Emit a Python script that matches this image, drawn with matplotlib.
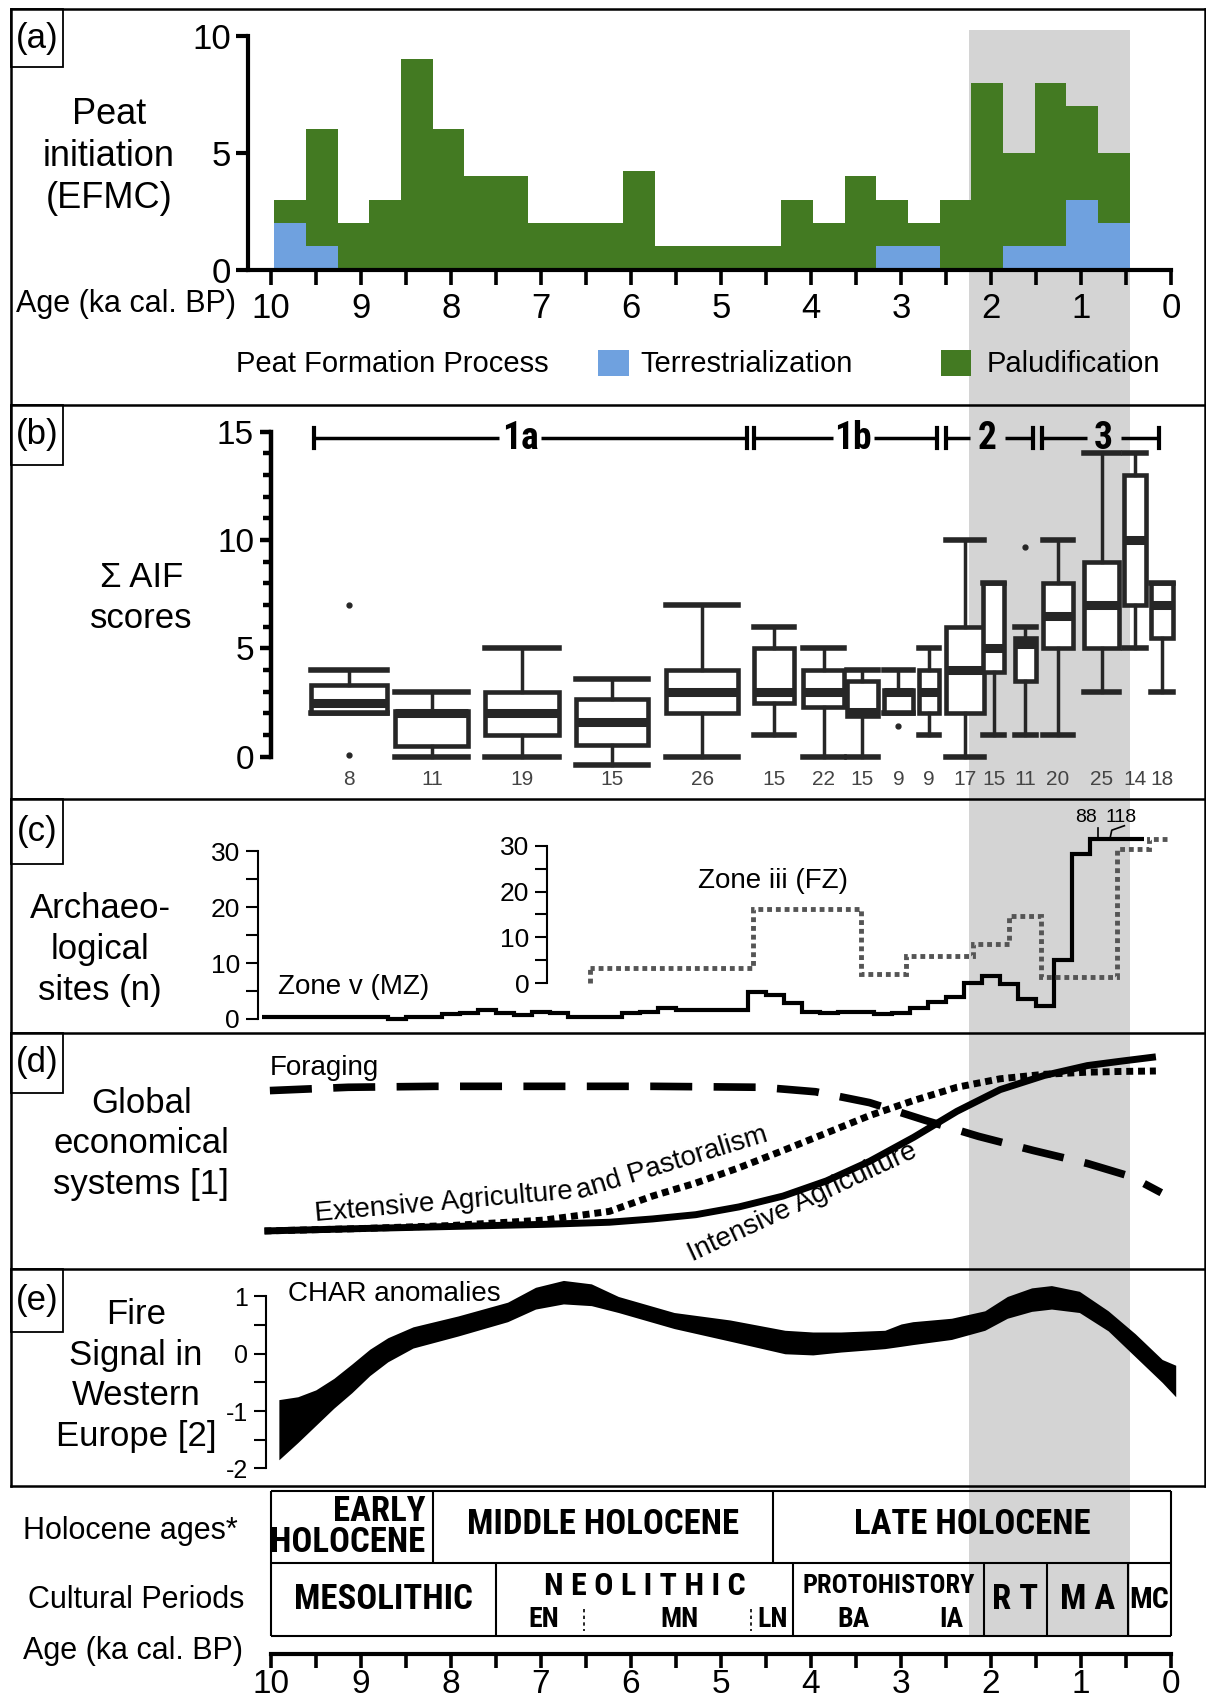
import numpy as np
import matplotlib
matplotlib.use('Agg')
import matplotlib.pyplot as plt
from matplotlib.patches import Rectangle
from matplotlib.lines import Line2D
from matplotlib import font_manager

# reference layout measured on a 1109 x 1568 grid, saved at 1206 x 1705
W, H = 1109.0, 1568.0


def fx(x):
    return x / W


def fy(y):
    return 1 - y / H


SANS = ['Liberation Sans', 'DejaVu Sans']
plt.rcParams['font.family'] = SANS

# a condensed face for the bold chronology labels, else plain sans
fonts = font_manager.fontManager.ttflist
installed = {f.name for f in fonts}
NARROW = dict(family=SANS)
for name in ['Liberation Sans Narrow', 'Roboto Condensed', 'Open Sans Condensed']:
    if name in installed:
        NARROW = dict(family=[name] + SANS)
        break
else:
    if any(f.name == 'DejaVu Sans' and f.stretch == 'condensed' for f in fonts):
        NARROW = dict(family=['DejaVu Sans'], stretch='condensed')

BLUE = '#6fa1df'
GREEN = '#437a22'
GRAY = '#d4d4d4'
DARK = '#262626'

# shaded period (ka cal. BP)
band = (2.25, 0.46)

# (a) peat initiation per bin
peat_edges = np.linspace(9.96, 0.46, 28)
terrestrialization = [2, 1, 0, 0, 0, 0, 0, 0, 0, 0, 0, 0, 0, 0, 0, 0, 0, 0, 0, 1, 1, 0, 0, 1, 1, 3, 2]
paludification = [1, 5, 2, 3, 9, 6, 4, 4, 2, 2, 2, 4.2, 1, 1, 1, 1, 3, 2, 4, 2, 1, 3, 8, 4, 7, 4, 3]

# (b) sum of AIF scores, box statistics
aif_age = [9.13, 8.21, 7.21, 6.21, 5.21, 4.41, 3.86, 3.43, 3.03, 2.69, 2.29, 1.97, 1.62, 1.26, 0.77, 0.40, 0.10]
aif_width = [0.84, 0.81, 0.82, 0.80, 0.80, 0.45, 0.45, 0.34, 0.33, 0.23, 0.42, 0.23, 0.23, 0.33, 0.39, 0.25, 0.24]
aif_whislo = [2, 0, 0, -0.4, 0, 1, 0, 0, 2, 1, 0, 1, 1, 1, 3, 5, 3]
aif_q1 = [2, 0.5, 1, 0.55, 2, 2.5, 2.3, 1.9, 2, 2, 2, 3.9, 3.5, 5, 5, 7, 5.5]
aif_med = [2.5, 2, 2, 1.6, 3, 3, 3, 2.05, 3, 3, 4, 5, 5.2, 6.5, 7, 10, 7]
aif_q3 = [3.3, 2.1, 3, 2.65, 4, 5, 4, 3.5, 3.1, 4, 6, 8, 5.5, 8, 9, 13, 8]
aif_whishi = [4, 3, 5, 3.6, 7, 6, 5, 4, 4, 5, 10, 8, 6, 10, 14, 14, 8]
aif_fliers = [[7, 0.1], [], [], [], [], [], [], [], [1.4], [], [], [], [9.7], [], [], [], []]
aif_n = [8, 11, 19, 15, 26, 15, 22, 15, 9, 9, 17, 15, 11, 20, 25, 14, 18]

zone_names = ['1a', '1b', '2', '3']
zone_start = [9.52, 4.63, 2.50, 1.44]
zone_end = [4.71, 2.60, 1.54, 0.13]
zone_label_age = [7.23, 3.53, 2.04, 0.75]

# (c) archaeological sites, Zone v (MZ), 0.2 ka bins from 10.1 to 0.3 ka
mz_edges = np.round(np.arange(10.1, 0.29, -0.2), 1)
mz_sites = [0.3, 0.3, 0.3, 0.3, 0.4, 0.4, 0.3, 0.0, 0.3, 0.3,
            0.8, 1.0, 1.5, 1.1, 0.7, 1.2, 1.1, 0.4, 0.4, 0.3,
            1.0, 1.3, 2.0, 1.6, 1.6, 1.5, 1.5, 4.8, 4.2, 2.8,
            1.2, 1.0, 1.3, 1.3, 0.9, 1.1, 1.9, 3.0, 3.9, 6.5,
            7.7, 6.3, 3.6, 2.3, 10.6, 29.5, 32.3, 32.3, 32.3]
# Zone iii (FZ)
fz_edges = [6.45, 4.65, 3.45, 2.95, 2.20, 1.80, 1.45, 0.60, 0.25, 0.05]
fz_sites = [3.4, 16.2, 2.1, 5.9, 8.6, 14.6, 1.4, 29.4, 31.6]

# (d) global economical systems (schematic, 0-100)
econ_age = [10.07, 9.02, 8.0, 6.97, 6.24, 5.76, 5.28, 4.80, 4.31, 3.83, 3.35, 2.86, 2.38, 1.90, 1.41, 0.93, 0.57, 0.17]
intensive = [16.1, 17.1, 18.0, 18.9, 19.8, 21.2, 23.0, 26.3, 30.9, 37.3, 45.6, 55.8, 66.8, 76.0, 82.0, 86.2, 88.0, 89.9]
extensive = [16.1, 17.1, 18.4, 20.7, 24.4, 30.9, 36.4, 42.9, 50.2, 57.6, 65.0, 71.4, 77.0, 80.6, 82.5, 83.4, 83.7, 83.9]
forage_age = [10.01, 9.14, 8.18, 6.97, 5.76, 4.55, 3.95, 3.35, 2.74, 2.14, 1.53, 0.93, 0.45, 0.11]
foraging = [75.6, 77.0, 77.4, 77.4, 77.4, 77.0, 75.1, 70.5, 63.1, 56.2, 50.2, 44.7, 39.2, 32.3]

# (e) CHAR anomalies envelope
char_age = [9.91, 9.7, 9.5, 9.3, 9.1, 8.9, 8.7, 8.42, 7.92, 7.37, 7.06, 6.75, 6.44, 6.14, 5.52, 4.9,
            4.29, 3.98, 3.67, 3.18, 3.0, 2.87, 2.44, 2.07, 1.82, 1.55, 1.33, 1.02, 0.7, 0.4, 0.1, -0.05]
char_upper = [-0.8, -0.75, -0.63, -0.43, -0.18, 0.08, 0.28, 0.47, 0.66, 0.9, 1.16, 1.28, 1.22, 1.0, 0.72, 0.59,
              0.41, 0.38, 0.38, 0.41, 0.52, 0.56, 0.62, 0.75, 1.0, 1.15, 1.19, 1.09, 0.75, 0.35, -0.1, -0.2]
char_lower = [-1.85, -1.55, -1.25, -0.95, -0.68, -0.38, -0.14, 0.1, 0.31, 0.56, 0.78, 0.87, 0.84, 0.72, 0.44, 0.22,
              0.0, -0.02, 0.03, 0.09, 0.13, 0.16, 0.25, 0.41, 0.62, 0.74, 0.78, 0.72, 0.4, -0.05, -0.5, -0.75]

# chronology table
holocene_names = ['EARLY\nHOLOCENE', 'MIDDLE HOLOCENE', 'LATE HOLOCENE']
holocene_bounds = [10, 8.2, 4.42, 0]
culture_names = ['MESOLITHIC', 'N E O L I T H I C', 'PROTOHISTORY', 'R T', 'M A', 'MC']
culture_bounds = [10, 7.5, 4.2, 2.08, 1.38, 0.48, 0]
sub_names = ['EN', 'MN', 'LN', 'BA', 'IA']
sub_age = [6.97, 5.46, 4.43, 3.53, 2.44]
neolithic_splits = [6.52, 4.67]


fig = plt.figure(figsize=(12.06, 17.05), dpi=100)
renderer = fig.canvas.get_renderer()

# age 10 sits at x=249, age 0 at x=1077
XL = ((1077 - 10) / 82.8, (1077 - 1108) / 82.8)


def panel(y0, y1, ylim):
    ax = fig.add_axes([fx(10), fy(y1), fx(1108) - fx(10), (y1 - y0) / H])
    ax.set_xlim(*XL)
    ax.set_ylim(*ylim)
    for s in ax.spines.values():
        s.set_visible(False)
    ax.set_xticks([])
    ax.set_yticks([])
    ax.patch.set_alpha(0)
    return ax


def y_axis(ax, at, lo, hi, major, minor, labels, size, lw, length):
    sp = ax.spines['left']
    sp.set_visible(True)
    sp.set_position(('data', at))
    sp.set_bounds(lo, hi)
    sp.set_linewidth(lw)
    ax.set_yticks(major)
    ax.set_yticklabels(labels, fontsize=size)
    ax.set_yticks(minor, minor=True)
    ax.tick_params(axis='y', which='major', direction='out', length=length, width=lw, pad=4)
    ax.tick_params(axis='y', which='minor', direction='out', length=length * 0.7, width=lw)


def fit_text(ax, t, a0, a1, frac=0.93):
    # shrink a cell label until it fits between ages a0 and a1
    span = abs(ax.transData.transform((a0, 0))[0] - ax.transData.transform((a1, 0))[0])
    while t.get_window_extent(renderer).width > frac * span and t.get_fontsize() > 8:
        t.set_fontsize(t.get_fontsize() - 0.5)


# ---------- (a) ----------
ax = panel(8, 372, (-5.767, 11.163))
ax.axvspan(*band, ymin=0, ymax=(372 - 28) / 364.0, color=GRAY, lw=0, zorder=0)
centers = (peat_edges[:-1] + peat_edges[1:]) / 2
widths = np.abs(np.diff(peat_edges))
ax.bar(centers, terrestrialization, width=widths, color=BLUE, lw=0, zorder=2)
ax.bar(centers, paludification, width=widths, bottom=terrestrialization, color=GREEN, lw=0, zorder=2)
y_axis(ax, 10.25, 0, 10, [0, 5, 10], [], ['0', '5', '10'], 25, 3, 8.5)
sp = ax.spines['bottom']
sp.set_visible(True)
sp.set_position(('data', 0))
sp.set_bounds(10.25, 0)
sp.set_linewidth(3)
ax.set_xticks(range(11))
ax.set_xticklabels([str(i) for i in range(11)], fontsize=25)
ax.set_xticks(np.arange(0.5, 10, 1), minor=True)
ax.tick_params(axis='x', which='both', direction='out', length=11, width=2.6, pad=5)

fig.text(fx(100), fy(144), 'Peat\ninitiation\n(EFMC)', ha='center', va='center', fontsize=26, linespacing=1.25)
fig.text(fx(217), fy(280), 'Age (ka cal. BP)', ha='right', va='center', fontsize=22)
fig.text(fx(217), fy(335), 'Peat Formation Process', ha='left', va='center', fontsize=21)
fig.add_artist(Rectangle((fx(550), fy(346)), fx(578) - fx(550), (346 - 322) / H,
                         transform=fig.transFigure, color=BLUE, lw=0))
fig.text(fx(589), fy(335), 'Terrestrialization', ha='left', va='center', fontsize=21)
fig.add_artist(Rectangle((fx(865), fy(346)), fx(893) - fx(865), (346 - 322) / H,
                         transform=fig.transFigure, color=GREEN, lw=0))
fig.text(fx(907), fy(335), 'Paludification', ha='left', va='center', fontsize=21)

# ---------- (b) ----------
ax = panel(372, 735, (-1.957, 16.257))
ax.axvspan(*band, color=GRAY, lw=0, zorder=0)
stats = []
for i in range(len(aif_age)):
    stats.append(dict(med=aif_med[i], q1=aif_q1[i], q3=aif_q3[i], whislo=aif_whislo[i],
                      whishi=aif_whishi[i], fliers=aif_fliers[i]))
ax.bxp(stats, positions=aif_age, widths=aif_width, capwidths=aif_width, patch_artist=True,
       manage_ticks=False, showfliers=True,
       boxprops=dict(facecolor='white', edgecolor=DARK, linewidth=3.3),
       medianprops=dict(color=DARK, linewidth=6.5, solid_capstyle='butt'),
       whiskerprops=dict(color=DARK, linewidth=2.5),
       capprops=dict(color=DARK, linewidth=4),
       flierprops=dict(marker='o', markersize=3.5, markerfacecolor=DARK, markeredgecolor=DARK))
y_axis(ax, 10.0, 0, 15, [0, 5, 10, 15], range(16), ['0', '5', '10', '15'], 24, 3.2, 8)
for a, n in zip(aif_age, aif_n):
    ax.text(a, -1.05, str(n), ha='center', va='center', fontsize=15, color='#444444')

zy = 14.7
for name, s, e, c in zip(zone_names, zone_start, zone_end, zone_label_age):
    gap = 0.23 if len(name) == 2 else 0.19
    ax.plot([s, c + gap], [zy, zy], color='black', lw=2.5, solid_capstyle='butt')
    ax.plot([c - gap, e], [zy, zy], color='black', lw=2.5, solid_capstyle='butt')
    ax.plot([s, s], [zy - 0.45, zy + 0.45], color='black', lw=3)
    ax.plot([e, e], [zy - 0.45, zy + 0.45], color='black', lw=3)
    ax.text(c, zy, name, ha='center', va='center', fontsize=27, fontweight='bold', **NARROW)

fig.text(fx(130), fy(550), '\u03a3 AIF\nscores', ha='center', va='center', fontsize=25, linespacing=1.3)

# ---------- (c) ----------
ax = panel(735, 950, (-2.533, 39.35))
ax.axvspan(*band, color=GRAY, lw=0, zorder=0)
ax.stairs(mz_sites[::-1], mz_edges[::-1], baseline=None, color='black', lw=3, zorder=3)
y_axis(ax, 10.14, 0, 30, [0, 10, 20, 30], [5, 15, 25], ['0', '10', '20', '30'], 19, 1.5, 9)
ax.tick_params(axis='y', which='minor', length=9)
ax.plot([0.81, 0.81], [32.3, 34.2], color='black', lw=1.2)
ax.plot([0.68, 0.66, 0.52], [32.3, 33.8, 34.6], color='black', lw=1.2)

ai = ax.twinx()
ai.set_ylim((-2.533 - 6.4) / 0.82, (39.35 - 6.4) / 0.82)
for s in ai.spines.values():
    s.set_visible(False)
ai.yaxis.set_ticks_position('left')
ai.yaxis.set_label_position('left')
y_axis(ai, 6.93, 0, 30, [0, 10, 20, 30], [5, 15, 25], ['0', '10', '20', '30'], 19, 1.5, 9)
ai.tick_params(axis='y', which='minor', length=9)
dots = (0, (1, 0.8))
ai.stairs(fz_sites[::-1], fz_edges[::-1], baseline=None, color='#555555', lw=3.5, linestyle=dots, zorder=2)
ai.plot([fz_edges[0], fz_edges[0]], [0, fz_sites[0]], color='#555555', lw=3.5, linestyle=dots)

fig.text(fx(256), fy(908), 'Zone v (MZ)', ha='left', va='center', fontsize=20)
fig.text(fx(642), fy(810), 'Zone iii (FZ)', ha='left', va='center', fontsize=20)
fig.text(fx(999), fy(752), '88', ha='center', va='center', fontsize=14)
fig.text(fx(1031), fy(752), '118', ha='center', va='center', fontsize=14)
fig.text(fx(92), fy(873), 'Archaeo-\nlogical\nsites (n)', ha='center', va='center', fontsize=25, linespacing=1.3)

# ---------- (d) ----------
ax = panel(950, 1167, (0, 100))
ax.axvspan(*band, color=GRAY, lw=0, zorder=0)
ax.plot(econ_age, intensive, color='black', lw=5, solid_capstyle='butt', solid_joinstyle='round')
ax.plot(econ_age, extensive, color='black', lw=5, linestyle=(0, (1, 0.7)))
ax.plot(forage_age, foraging, color='black', lw=5.5, linestyle=(0, (5.5, 2.8)))
fig.text(fx(248), fy(982), 'Foraging', ha='left', va='center', fontsize=20)
fig.text(fx(408), fy(1106), 'Extensive Agriculture', ha='center', va='center', fontsize=20,
         rotation=5, rotation_mode='anchor')
fig.text(fx(618), fy(1070), 'and Pastoralism', ha='center', va='center', fontsize=20,
         rotation=17, rotation_mode='anchor')
fig.text(fx(738), fy(1106), 'Intensive Agriculture', ha='center', va='center', fontsize=20,
         rotation=25, rotation_mode='anchor')
fig.text(fx(130), fy(1052), 'Global\neconomical\nsystems [1]', ha='center', va='center', fontsize=25, linespacing=1.3)

# ---------- (e) ----------
ax = panel(1167, 1367, (-2.315, 1.48))
ax.axvspan(*band, color=GRAY, lw=0, zorder=0)
ax.fill_between(char_age, char_lower, char_upper, color='black', lw=0)
y_axis(ax, 10.05, -2, 1, [-2, -1, 0, 1], [-1.5, -0.5, 0.5], ['-2', '-1', '0', '1'], 18, 1.5, 9)
ax.tick_params(axis='y', which='minor', length=9)
fig.text(fx(265), fy(1190), 'CHAR anomalies', ha='left', va='center', fontsize=20)
fig.text(fx(125), fy(1265), 'Fire\nSignal in\nWestern\nEurope [2]', ha='center', va='center', fontsize=25, linespacing=1.3)

# ---------- chronology table ----------
ax = panel(1367, 1568, (1568, 1367))
ax.axvspan(*band, ymin=(1568 - 1505) / 201.0, ymax=1, color=GRAY, lw=0, zorder=0)
r0, r1, r2 = 1371, 1437, 1505
ax.hlines([r0, r1, r2], 10, 0, color='black', lw=1.5)
ax.vlines(holocene_bounds, r0, r1, color='black', lw=1.5)
ax.vlines(culture_bounds, r1, r2, color='black', lw=1.5)
ax.vlines(neolithic_splits, 1480, 1500, color='black', lw=1.2, linestyles=(0, (2, 2)))
bold = dict(fontweight='bold', va='center', **NARROW)
t = ax.text(holocene_bounds[1] + 0.08, 1404, holocene_names[0], ha='right', multialignment='right',
            fontsize=25, linespacing=0.92, **bold)
fit_text(ax, t, holocene_bounds[0] + 0.07, holocene_bounds[1], 0.98)
for i in (1, 2):
    t = ax.text((holocene_bounds[i] + holocene_bounds[i + 1]) / 2, 1402, holocene_names[i], ha='center',
                fontsize=25, **bold)
    fit_text(ax, t, holocene_bounds[i], holocene_bounds[i + 1])
for i, name in enumerate(culture_names):
    c = (culture_bounds[i] + culture_bounds[i + 1]) / 2
    row_y = 1459 if name in ('N E O L I T H I C', 'PROTOHISTORY') else 1471
    t = ax.text(c, row_y, name, ha='center', fontsize=25 if row_y == 1471 else 23, **bold)
    fit_text(ax, t, culture_bounds[i], culture_bounds[i + 1])
for name, a in zip(sub_names, sub_age):
    ax.text(a, 1489, name, ha='center', fontsize=20, **bold)

sp = ax.spines['bottom']
sp.set_visible(True)
sp.set_position(('data', 1521))
sp.set_bounds(10, 0)
sp.set_linewidth(3)
ax.set_xticks(range(11))
ax.set_xticklabels([str(i) for i in range(11)], fontsize=24)
ax.set_xticks(np.arange(0.5, 10, 1), minor=True)
ax.tick_params(axis='x', which='both', direction='out', length=10, width=2.6, pad=1)

fig.text(fx(120), fy(1408), 'Holocene ages*', ha='center', va='center', fontsize=22)
fig.text(fx(125), fy(1471), 'Cultural Periods', ha='center', va='center', fontsize=22)
fig.text(fx(122), fy(1518), 'Age (ka cal. BP)', ha='center', va='center', fontsize=22)

# ---------- panel frames and letters ----------
for y in (8, 372, 735, 950, 1167, 1367):
    fig.add_artist(Line2D([fx(10), fx(1108)], [fy(y), fy(y)], color='black', lw=1.8, transform=fig.transFigure))
for x in (10, 1108):
    fig.add_artist(Line2D([fx(x), fx(x)], [fy(8), fy(1367)], color='black', lw=1.8, transform=fig.transFigure))
for letter, y0, y1 in [('(a)', 8, 62), ('(b)', 372, 428), ('(c)', 735, 795), ('(d)', 950, 1005), ('(e)', 1167, 1225)]:
    fig.add_artist(Rectangle((fx(10), fy(y1)), fx(58) - fx(10), (y1 - y0) / H, transform=fig.transFigure,
                             fill=False, edgecolor='black', lw=1.3))
    fig.text(fx(34), fy((y0 + y1) / 2), letter, ha='center', va='center', fontsize=25)

fig.savefig('out.png', dpi=100)
